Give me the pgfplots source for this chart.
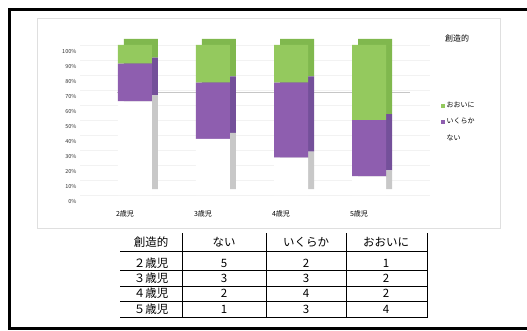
\documentclass[border=0pt]{standalone}
\usepackage{fontspec}
\setmainfont{Liberation Sans}
\newfontfamily\cjk{Noto Sans CJK JP}
\usepackage{pgfplots}
\usepackage{pgfplotstable}
\pgfplotsset{compat=1.18}
\definecolor{grn}{HTML}{94C95E}
\definecolor{grnD}{HTML}{80B84E}
\definecolor{pur}{HTML}{8E5EAF}
\definecolor{purD}{HTML}{74509A}
\definecolor{gry}{HTML}{C8C8C8}
% percentages of each age group (counts / 8)
\pgfplotstableread{
x nai ikura ooini
0 62.5 25 12.5
1 37.5 37.5 25
2 25 50 25
3 12.5 37.5 50
}\datatab
\pgfplotsset{base/.style={
  anchor=south west, scale only axis, width=350pt, height=150pt,
  xmin=-0.705, xmax=3.782, ymin=0, ymax=100,
  ybar stacked, bar width=34pt}}
\begin{document}
\begin{tikzpicture}[x=1pt,y=1pt]
\useasboundingbox (0,0) rectangle (527,330);
% outer frame
\draw[line width=3pt] (527,320) -- (9.5,320) -- (9.5,1.5) -- (527,1.5);
% chart area
\draw[gray!25] (37,102) rectangle (500,312);
\node[font=\cjk\fontsize{8}{9}\selectfont] at (457,292) {創造的};
% back wall grid
\begin{axis}[base, at={(80pt,135pt)},
  axis line style={draw=none}, major tick length=0pt,
  ymajorgrids, grid style={gray!10},
  ytick={0,10,...,100}, xtick=\empty, yticklabels={}]
\draw[gray!45] (axis cs:-0.23,68.7) -- (axis cs:3.53,68.7);
\end{axis}
% depth layer
\begin{axis}[base, at={(86pt,141pt)}, hide axis]
\addplot[fill=gry, draw=none] table[x=x,y=nai]{\datatab};
\addplot[fill=purD, draw=none] table[x=x,y=ikura]{\datatab};
\addplot[fill=grnD, draw=none] table[x=x,y=ooini]{\datatab};
\end{axis}
% front layer
\begin{axis}[base, at={(80pt,135pt)},
  axis line style={draw=none}, major tick length=0pt,
  ytick={0,10,...,100},
  yticklabel={\pgfmathprintnumber{\tick}\%},
  /pgf/number format/assume math mode=true,
  yticklabel style={font=\cjk\fontsize{5.5}{6}\selectfont, yshift=-6pt, text=black!80},
  xtick={0,1,2,3},
  xticklabels={2歳児,3歳児,4歳児,5歳児},
  xticklabel style={font=\cjk\fontsize{7}{8}\selectfont, xshift=-10pt, yshift=-12pt},
  reverse legend,
  legend cell align=left,
  legend style={at={(1.03,0.633)}, anchor=north west, draw=none, fill=none,
    font=\cjk\fontsize{7}{8}\selectfont, row sep=5pt, inner sep=0pt},
  legend image code/.code={\fill[#1] (0pt,-2pt) rectangle (4pt,2pt);}
]
\addplot[fill=white, draw=none] table[x=x,y=nai]{\datatab};
\addplot[fill=pur, draw=none] table[x=x,y=ikura]{\datatab};
\addplot[fill=grn, draw=none] table[x=x,y=ooini]{\datatab};
\legend{ない,いくらか,おおいに}
\end{axis}
% data table
\begin{scope}[every node/.style={font=\cjk\fontsize{11.5}{12}\selectfont, anchor=center}]
\node at (151,88) {創造的}; \node at (224,88) {ない}; \node at (306,88) {いくらか}; \node at (386,88) {おおいに};
\node at (151,67) {２歳児}; \node at (224,67) {5}; \node at (306,67) {2}; \node at (386,67) {1};
\node at (151,52) {３歳児}; \node at (224,52) {3}; \node at (306,52) {3}; \node at (386,52) {2};
\node at (151,37) {４歳児}; \node at (224,37) {2}; \node at (306,37) {4}; \node at (386,37) {2};
\node at (151,21) {５歳児}; \node at (224,21) {1}; \node at (306,21) {3}; \node at (386,21) {4};
\end{scope}
\foreach \yy in {79,59.5,44,29,13} {\draw[line width=0.9pt] (120,\yy) -- (427,\yy);}
\foreach \xx in {182,266,346,427} {\draw[line width=1pt] (\xx,97) -- (\xx,12);}
\end{tikzpicture}
\end{document}
